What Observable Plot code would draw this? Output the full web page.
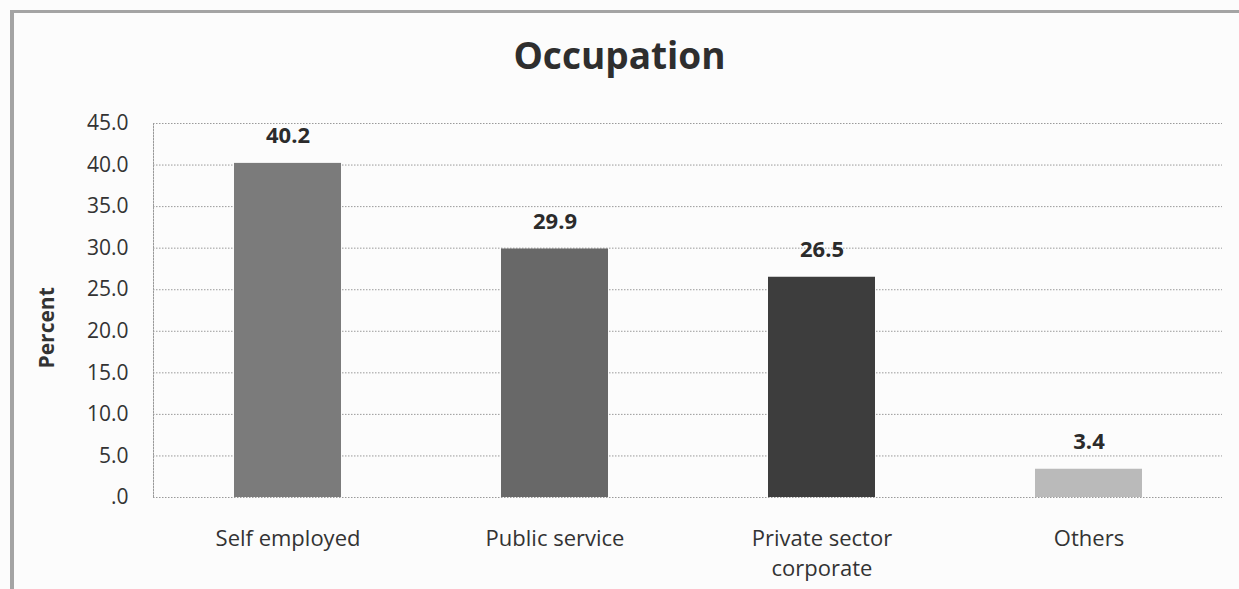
<!DOCTYPE html>
<html>
<head>
<meta charset="utf-8">
<script src="https://cdn.jsdelivr.net/npm/d3@7"></script>
<script src="https://cdn.jsdelivr.net/npm/@observablehq/plot@0.6"></script>
<style>
  html, body { margin: 0; padding: 0; background: #fcfcfc; width: 1239px; height: 589px; overflow: hidden; }
  #frame { position: absolute; left: 10px; top: 10px; width: 1229px; height: 579px; border-left: 4px solid #a4a4a4; border-top: 3px solid #a4a4a4; box-sizing: border-box; }
  #title { position: absolute; left: 0; top: 35px; width: 1239px; text-align: center; font: bold 37px "Open Sans", sans-serif; color: #2e2e2e; line-height: 40px; }
  #chart { position: absolute; left: 0; top: 100px; }
</style>
</head>
<body>
<div id="frame"></div>
<div id="title">Occupation</div>
<div id="chart"></div>
<script>
const categories = ["Self employed", "Public service", "Private sector\ncorporate", "Others"];
const values = [40.2, 29.9, 26.5, 3.4];
const barColors = ["#7b7b7b", "#686868", "#3d3d3d", "#bababa"];
const yTicks = [0, 5, 10, 15, 20, 25, 30, 35, 40, 45];
const yLabel = "Percent";

const data = categories.map((c, i) => ({category: c, value: values[i], color: barColors[i]}));

const chart = Plot.plot({
  width: 1239,
  height: 489,
  marginTop: 23,
  marginBottom: 92,
  marginLeft: 153,
  marginRight: 17,
  style: {background: "transparent", fontFamily: "'Open Sans', sans-serif", color: "#333"},
  x: {domain: categories, paddingInner: 0.6, paddingOuter: 0.3, axis: null},
  y: {domain: [0, 45], axis: null},
  marks: [
    Plot.ruleY(yTicks, {stroke: "#9a9a9a", strokeDasharray: "1.5,1.5", strokeWidth: 1}),
    Plot.frame({anchor: "left", stroke: "#9a9a9a", strokeDasharray: "1.5,1.5"}),
    Plot.barY(data, {x: "category", y: "value", fill: "color"}),
    Plot.text(data, {x: "category", y: "value", text: d => d.value.toFixed(1), dy: -27, fontSize: 22, fontWeight: "bold", fill: "#2b2b2b"}),
    Plot.axisY({ticks: yTicks, tickSize: 0, tickPadding: 25, tickFormat: d => d === 0 ? ".0" : d.toFixed(1), fontSize: 21, label: null, color: "#333"}),
    Plot.text([yLabel], {frameAnchor: "left", rotate: -90, dx: -106, dy: 58, fontSize: 21, fontWeight: "bold", fill: "#333"}),
    Plot.text(categories, {x: d => d, frameAnchor: "bottom", lineAnchor: "top", dy: 27, lineHeight: 1.38, fontSize: 22, fill: "#333"})
  ]
});
document.getElementById("chart").appendChild(chart);
</script>
</body>
</html>
